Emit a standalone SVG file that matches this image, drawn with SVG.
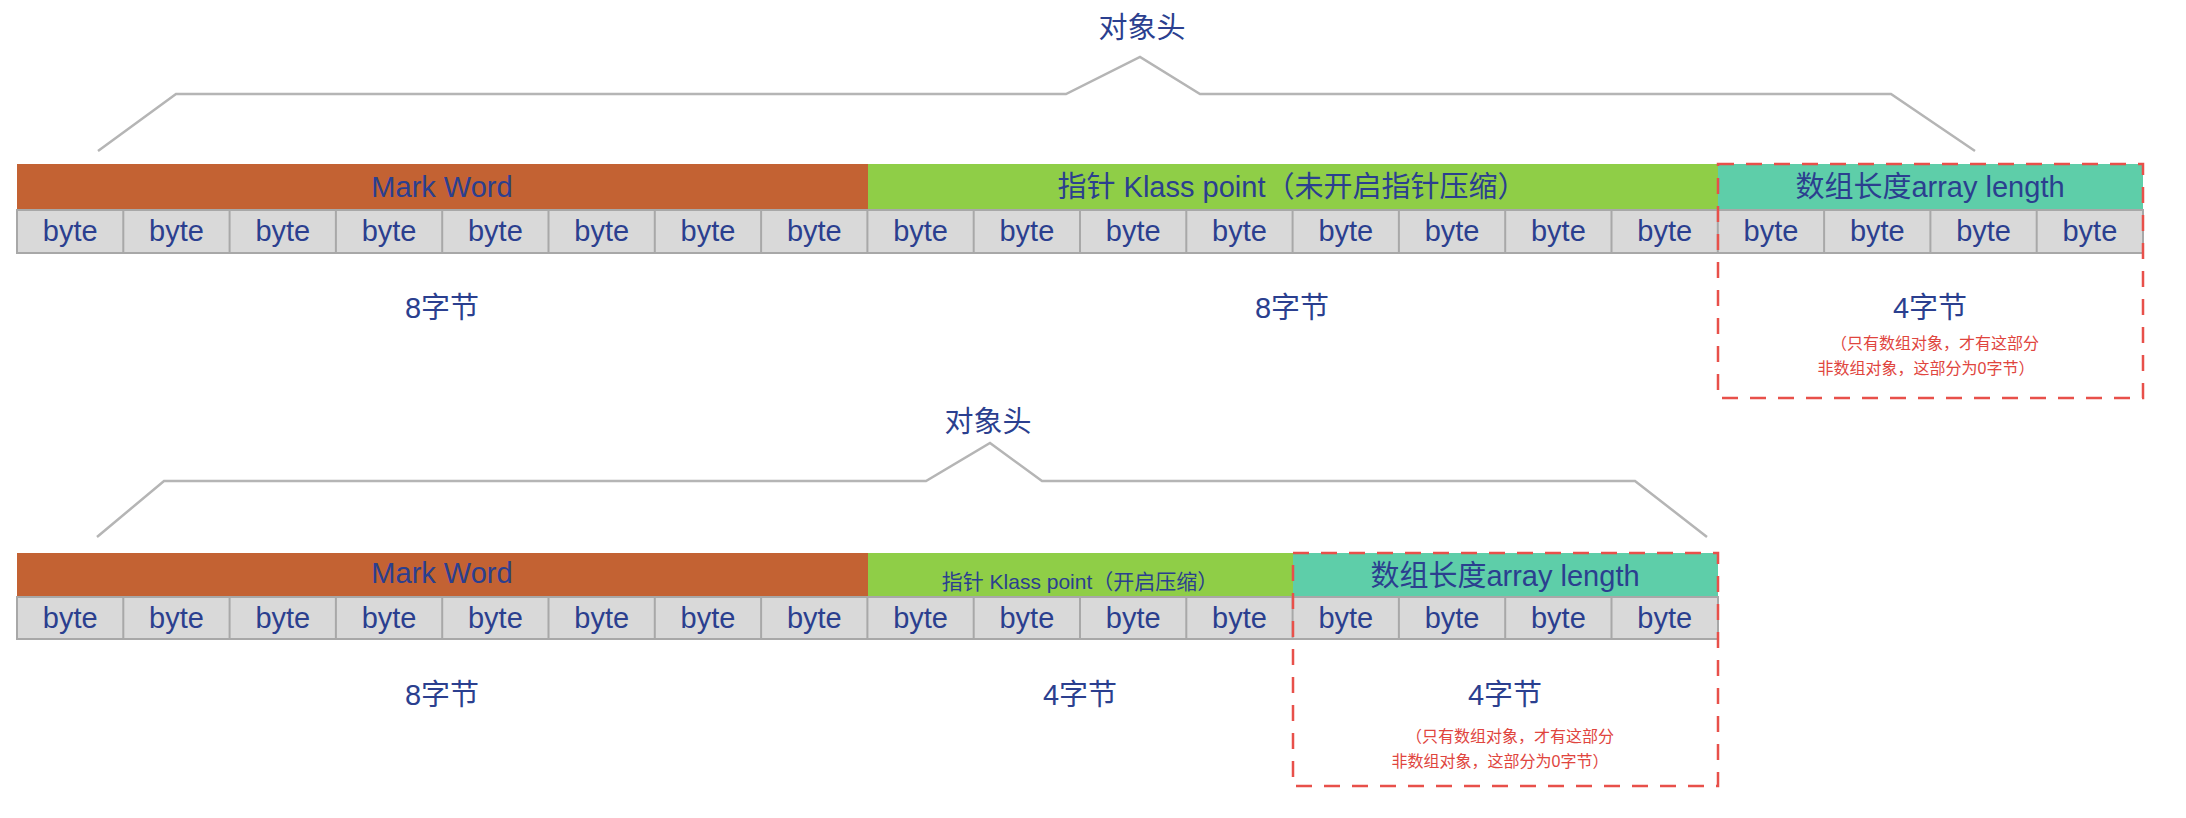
<svg xmlns="http://www.w3.org/2000/svg" width="2186" height="818" viewBox="0 0 2186 818">
<style>
text{font-family:"Liberation Sans","Noto Sans CJK SC",sans-serif;fill:#2b3f8f;text-anchor:middle}
.b{font-size:29px}
.t{font-size:29px}
.n{font-size:16px;fill:#e0453e}
.brace{fill:none;stroke:#b5b5b5;stroke-width:2.5}
.cells{fill:#d9d9d9;stroke:#a8a8a8;stroke-width:2}
.div{stroke:#a8a8a8;stroke-width:2}
.red{fill:none;stroke:#e8504a;stroke-width:2.5;stroke-dasharray:16 12}
</style>
<g id="connectors">
<path class="brace" d="M98 151 L176 94 L1066 94 L1140 57 L1200 94 L1891 94 L1975 151"/>
<path class="brace" d="M97 537 L164 481 L926 481 L990 443 L1042 481 L1635 481 L1707 537"/>
</g>
<g id="row1">
<text class="t" x="1142" y="38">对象头</text>
<g id="markword1"><rect x="17" y="164" width="851" height="46" fill="#c36233"/><text class="t" x="442" y="197">Mark Word</text></g>
<g id="klass1"><rect x="868" y="164" width="850" height="46" fill="#8fce47"/><text class="t" x="1292" y="197">指针 Klass point（未开启指针压缩）</text></g>
<g id="array1"><rect x="1718" y="164" width="425" height="46" fill="#5ecea9"/><text class="t" x="1930" y="197">数组长度array length</text></g>
<g id="bytes1">
<rect class="cells" x="17" y="210" width="2126" height="43"/>
<path class="div" d="M123.3 210v43M229.6 210v43M335.9 210v43M442.2 210v43M548.5 210v43M654.8 210v43M761.1 210v43M867.4 210v43M973.7 210v43M1080 210v43M1186.3 210v43M1292.6 210v43M1398.9 210v43M1505.2 210v43M1611.5 210v43M1717.8 210v43M1824.1 210v43M1930.4 210v43M2036.7 210v43"/>
<g class="b">
<text x="70.2" y="241">byte</text><text x="176.5" y="241">byte</text><text x="282.8" y="241">byte</text><text x="389.1" y="241">byte</text><text x="495.4" y="241">byte</text><text x="601.7" y="241">byte</text><text x="708" y="241">byte</text><text x="814.3" y="241">byte</text><text x="920.6" y="241">byte</text><text x="1026.9" y="241">byte</text><text x="1133.2" y="241">byte</text><text x="1239.5" y="241">byte</text><text x="1345.8" y="241">byte</text><text x="1452.1" y="241">byte</text><text x="1558.4" y="241">byte</text><text x="1664.7" y="241">byte</text><text x="1771" y="241">byte</text><text x="1877.3" y="241">byte</text><text x="1983.6" y="241">byte</text><text x="2089.9" y="241">byte</text>
</g></g>
<text class="t" x="442" y="318">8字节</text>
<text class="t" x="1292" y="318">8字节</text>
<g id="optional1">
<rect class="red" x="1718" y="164" width="425" height="234"/>
<text class="t" x="1930" y="318">4字节</text>
<text class="n" x="1935" y="349">（只有数组对象，才有这部分</text>
<text class="n" x="1926" y="374">非数组对象，这部分为0字节）</text>
</g>
</g>
<g id="row2">
<text class="t" x="988" y="432">对象头</text>
<g id="markword2"><rect x="17" y="553" width="851" height="44" fill="#c36233"/><text class="t" x="442" y="583">Mark Word</text></g>
<g id="klass2"><rect x="868" y="553" width="425" height="44" fill="#8fce47"/><text x="1080" y="589" style="font-size:21px">指针 Klass point（开启压缩）</text></g>
<g id="array2"><rect x="1293" y="553" width="425" height="44" fill="#5ecea9"/><text class="t" x="1505" y="586">数组长度array length</text></g>
<g id="bytes2">
<rect class="cells" x="17" y="597" width="1701" height="42"/>
<path class="div" d="M123.3 597v42M229.6 597v42M335.9 597v42M442.2 597v42M548.5 597v42M654.8 597v42M761.1 597v42M867.4 597v42M973.7 597v42M1080 597v42M1186.3 597v42M1292.6 597v42M1398.9 597v42M1505.2 597v42M1611.5 597v42"/>
<g class="b">
<text x="70.2" y="628">byte</text><text x="176.5" y="628">byte</text><text x="282.8" y="628">byte</text><text x="389.1" y="628">byte</text><text x="495.4" y="628">byte</text><text x="601.7" y="628">byte</text><text x="708" y="628">byte</text><text x="814.3" y="628">byte</text><text x="920.6" y="628">byte</text><text x="1026.9" y="628">byte</text><text x="1133.2" y="628">byte</text><text x="1239.5" y="628">byte</text><text x="1345.8" y="628">byte</text><text x="1452.1" y="628">byte</text><text x="1558.4" y="628">byte</text><text x="1664.7" y="628">byte</text>
</g></g>
<text class="t" x="442" y="705">8字节</text>
<text class="t" x="1080" y="705">4字节</text>
<g id="optional2">
<rect class="red" x="1293" y="553" width="425" height="233"/>
<text class="t" x="1505" y="705">4字节</text>
<text class="n" x="1510" y="742">（只有数组对象，才有这部分</text>
<text class="n" x="1500" y="767">非数组对象，这部分为0字节）</text>
</g>
</g>
</svg>
